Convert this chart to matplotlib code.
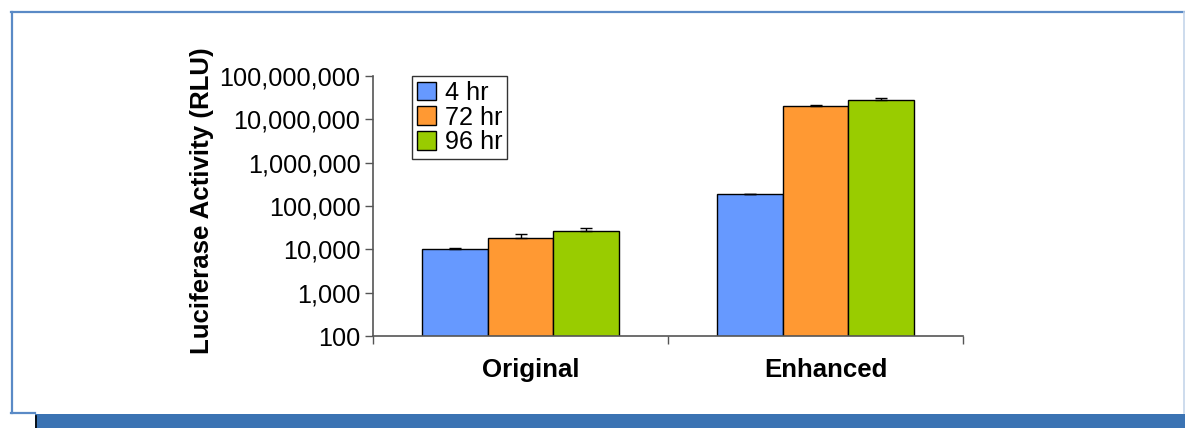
import numpy as np
import matplotlib.pyplot as plt
from matplotlib.patches import Rectangle
from matplotlib.lines import Line2D

plt.rcParams['font.family'] = ['Liberation Sans', 'DejaVu Sans']

# luciferase readings per construct and time point
constructs = ['Original', 'Enhanced']
times = ['4 hr', '72 hr', '96 hr']
rlu_4hr = [10200, 186000]
rlu_72hr = [18500, 20000000]
rlu_96hr = [26900, 28000000]
err_4hr = [400, 6000]
err_72hr = [3500, 1600000]
err_96hr = [5000, 2300000]
colors = ['#6699FF', '#FF9933', '#99CC00']
tick_vals = [100, 1000, 10000, 100000, 1000000, 10000000, 100000000]
tick_text = ['100', '1,000', '10,000', '100,000', '1,000,000', '10,000,000', '100,000,000']

W, H = 1185, 428
fig = plt.figure(figsize=(W / 100, H / 100), dpi=100)

# slide frame around the chart
fig.add_artist(Line2D([11 / W, 1], [1 - 12 / H, 1 - 12 / H], color='#5A8AC6', lw=1.6))
fig.add_artist(Line2D([12 / W, 12 / W], [1 - 12 / H, 1 - 413 / H], color='#5A8AC6', lw=1.6))
fig.add_artist(Line2D([11 / W, 35 / W], [1 - 413 / H, 1 - 413 / H], color='#5A8AC6', lw=1.6))
fig.add_artist(Line2D([1183.5 / W, 1183.5 / W], [1 - 12 / H, 1 - 413 / H], color='#C5D5EA', lw=1.2))
fig.add_artist(Rectangle((35 / W, 0), 1 - 35 / W, 14.5 / H, transform=fig.transFigure,
                         facecolor='#3B73B3', edgecolor='none'))
fig.add_artist(Line2D([36 / W, 36 / W], [0, 12 / H], color='black', lw=1.2))

ax = fig.add_axes([373 / W, 1 - 336 / H, 590 / W, 260 / H])

x = np.arange(len(constructs))
width = 2 / 9
series = [rlu_4hr, rlu_72hr, rlu_96hr]
errs = [err_4hr, err_72hr, err_96hr]
for i, (vals, e) in enumerate(zip(series, errs)):
    pos = x + (i - 1) * width
    ax.bar(pos, vals, width, color=colors[i], edgecolor='black', linewidth=1.0,
           label=times[i], zorder=2)
    ax.errorbar(pos, vals, yerr=[np.zeros(len(e)), e], fmt='none', ecolor='black',
                elinewidth=1.0, capsize=4, capthick=1.0, zorder=3)

ax.set_yscale('log')
ax.set_ylim(100, 100000000)
ax.set_xlim(-0.5, 1.5)
ax.set_yticks(tick_vals)
ax.set_yticklabels(tick_text)
ax.yaxis.set_minor_locator(plt.NullLocator())
ax.tick_params(axis='y', labelsize=18.2, length=6, width=1, color='#555555', pad=3)

ax.set_xticks([-0.5, 0.5, 1.5])
ax.set_xticklabels([])
ax.tick_params(axis='x', length=6, width=1, color='#555555')
for xc, name in zip(x, constructs):
    ax.annotate(name, xy=(xc, 0), xycoords=('data', 'axes fraction'),
                xytext=(10, -22), textcoords='offset pixels', ha='center', va='top',
                fontsize=18.6, fontweight='bold')

for side in ['top', 'right']:
    ax.spines[side].set_visible(False)
for side in ['left', 'bottom']:
    ax.spines[side].set_color('#555555')
    ax.spines[side].set_linewidth(1.2)

ax.set_ylabel('Luciferase Activity (RLU)', fontsize=18.6, fontweight='bold')
ax.yaxis.set_label_coords(-0.269, 0.521)

leg = ax.legend(loc='upper left', bbox_to_anchor=(0.066, 1.0), borderaxespad=0,
                fontsize=18.2, frameon=True, fancybox=False, edgecolor='black',
                handlelength=0.75, handleheight=0.75, handletextpad=0.35,
                labelspacing=0.02, borderpad=0.2)
leg.get_frame().set_linewidth(1.0)

fig.savefig('out.png', dpi=100)
